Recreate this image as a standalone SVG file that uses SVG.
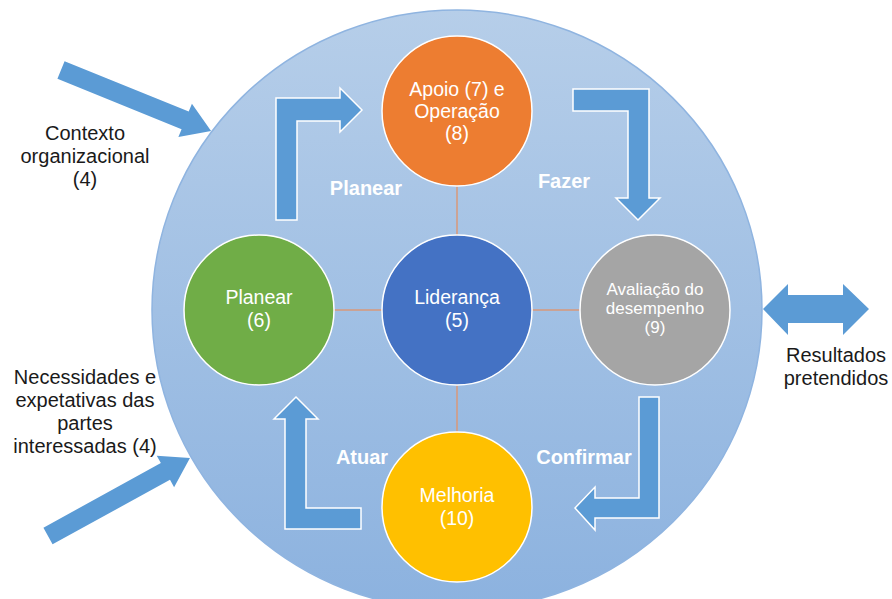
<svg xmlns="http://www.w3.org/2000/svg" width="892" height="599" viewBox="0 0 892 599">
  <defs>
    <linearGradient id="bigFill" x1="0" y1="0" x2="0" y2="1">
      <stop offset="0" stop-color="#b6cee9"/>
      <stop offset="1" stop-color="#8cb2df"/>
    </linearGradient>
  </defs>
  <style>
    .blue-arrow { fill: #5b9bd5; }
    .cycle-arrow { fill: #5b9bd5; stroke: #ffffff; stroke-width: 1.5; stroke-linejoin: miter; }
    .node { stroke: #ffffff; stroke-width: 1.5; }
    .link { stroke: #d9987a; stroke-width: 1.5; fill: none; }
    .ntext { font-family: "Liberation Sans", Arial, sans-serif; font-size: 19.5px; fill: #ffffff; text-anchor: middle; }
    .ntext-sm { font-family: "Liberation Sans", Arial, sans-serif; font-size: 17px; fill: #ffffff; text-anchor: middle; }
    .phase { font-family: "Liberation Sans", Arial, sans-serif; font-size: 20px; font-weight: bold; fill: #ffffff; text-anchor: middle; }
    .outer { font-family: "Liberation Sans", Arial, sans-serif; font-size: 20px; fill: #1a1a1a; text-anchor: middle; }
  </style>

  <!-- Background organisation circle -->
  <g id="organizacao">
    <ellipse cx="457" cy="310" rx="305" ry="300" fill="url(#bigFill)" stroke="#8fb4e0" stroke-width="1.5"/>
  </g>

  <!-- Connectors: spokes, cycle arrows and external arrows -->
  <g id="connectors">
    <line class="link" x1="457" y1="186" x2="457" y2="235"/>
    <line class="link" x1="457" y1="385" x2="457" y2="432"/>
    <line class="link" x1="334" y1="310" x2="382" y2="310"/>
    <line class="link" x1="532" y1="310" x2="580" y2="310"/>

    <!-- Planear: up then right -->
    <polygon class="cycle-arrow" points="276,220 276,98 340,98 340,88 362,110 340,132 340,121 297,121 297,220"/>
    <!-- Fazer: right then down -->
    <polygon class="cycle-arrow" points="573,89 649,89 649,198 660,198 638,220 616,198 628,198 628,111 573,111"/>
    <!-- Confirmar: down then left -->
    <polygon class="cycle-arrow" points="639,397 659,397 659,518 595,518 595,530 575,508 595,487 595,498 639,498"/>
    <!-- Atuar: left then up -->
    <polygon class="cycle-arrow" points="296,397 318,419 306,419 306,508 361,508 361,529 285,529 285,419 274,419"/>

    <!-- External inputs -->
    <polygon class="blue-arrow" transform="translate(61,70) rotate(22.1)" points="0,-9.5 134,-9.5 134,-18 162,0 134,18 134,9.5 0,9.5"/>
    <polygon class="blue-arrow" transform="translate(48,536) rotate(-28.8)" points="0,-9.5 134,-9.5 134,-18 162,0 134,18 134,9.5 0,9.5"/>

    <!-- Output double arrow -->
    <polygon class="blue-arrow" points="763,309 788,284 788,295 843,295 843,284 869,309 843,335 843,323 788,323 788,335"/>
  </g>

  <g id="apoio-operacao">
    <circle class="node" cx="457" cy="111" r="75" fill="#ed7d31"/>
    <text class="ntext" x="457" y="96">Apoio (7) e</text>
    <text class="ntext" x="457" y="118">Operação</text>
    <text class="ntext" x="457" y="140">(8)</text>
  </g>

  <g id="lideranca">
    <circle class="node" cx="457" cy="310" r="75" fill="#4472c4"/>
    <text class="ntext" x="457" y="304">Liderança</text>
    <text class="ntext" x="457" y="327">(5)</text>
  </g>

  <g id="planear">
    <circle class="node" cx="259" cy="310" r="75" fill="#70ad47"/>
    <text class="ntext" x="259" y="304">Planear</text>
    <text class="ntext" x="259" y="327">(6)</text>
  </g>

  <g id="avaliacao">
    <circle class="node" cx="655" cy="310" r="75" fill="#a5a5a5"/>
    <text class="ntext-sm" x="655" y="295">Avaliação do</text>
    <text class="ntext-sm" x="655" y="314">desempenho</text>
    <text class="ntext-sm" x="655" y="333">(9)</text>
  </g>

  <g id="melhoria">
    <circle class="node" cx="457" cy="507" r="75" fill="#ffc000"/>
    <text class="ntext" x="457" y="502">Melhoria</text>
    <text class="ntext" x="457" y="525">(10)</text>
  </g>

  <!-- Cycle phase labels -->
  <g id="fases">
    <text class="phase" x="366" y="195">Planear</text>
    <text class="phase" x="564" y="188">Fazer</text>
    <text class="phase" x="362" y="464">Atuar</text>
    <text class="phase" x="584" y="464">Confirmar</text>
  </g>

  <!-- External labels -->
  <g id="contexto">
    <text class="outer" x="85" y="140">Contexto</text>
    <text class="outer" x="85" y="163">organizacional</text>
    <text class="outer" x="85" y="186">(4)</text>
  </g>
  <g id="partes-interessadas">
    <text class="outer" x="85" y="384">Necessidades e</text>
    <text class="outer" x="85" y="407">expetativas das</text>
    <text class="outer" x="85" y="430">partes</text>
    <text class="outer" x="85" y="453">interessadas (4)</text>
  </g>
  <g id="resultados">
    <text class="outer" x="836" y="362">Resultados</text>
    <text class="outer" x="836" y="385">pretendidos</text>
  </g>
</svg>
